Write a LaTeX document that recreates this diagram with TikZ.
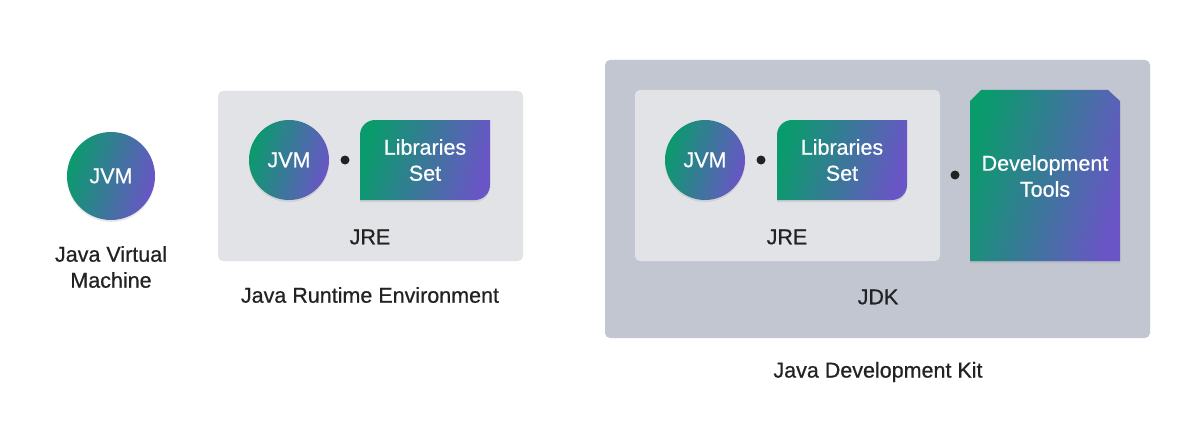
\documentclass[tikz,border=0pt]{standalone}
\usepackage{fontspec}
\setmainfont{Liberation Sans}
\newfontfamily\medfont{Liberation Sans}[FakeBold=0.6]
\usetikzlibrary{shadows}
\definecolor{gA}{HTML}{0A9B6C}
\definecolor{gB}{HTML}{6A55C6}
\definecolor{boxL}{HTML}{E1E3E7}
\definecolor{boxD}{HTML}{C1C6D0}
\definecolor{txt}{HTML}{222222}
\tikzset{
  grad/.style={left color=gA, right color=gB, shading angle=75},
  shad/.style={drop shadow={opacity=0.18, shadow xshift=0pt, shadow yshift=-2pt}},
  jvm/.style={circle, minimum size=#1, inner sep=0pt, grad, shad, text=white,
     font=\medfont\fontsize{21.5}{26}\selectfont},
  lbl/.style={text=txt, font=\medfont\fontsize{21.5}{26}\selectfont, align=center},
  wt/.style={text=white, font=\medfont\fontsize{21.5}{26}\selectfont, align=center},
  sep/.style={circle, fill=txt, minimum size=9pt, inner sep=0pt},
  panel/.style={rounded corners=5pt},
}
\begin{document}
\begin{tikzpicture}[x=1pt,y=-1pt]
\useasboundingbox[fill=white] (0,0) rectangle (1200,444);
% standalone JVM
\node[jvm=88pt] (jvm1) at (111,176) {JVM};
\node[lbl] (jvm1l) at (111,267) {Java Virtual\\Machine};
% JRE panel
\fill[boxL, panel] (218,91) rectangle (523,261);
\node[jvm=80pt] (jvm2) at (289,160) {JVM};
\node[sep] (d1) at (345,160) {};
\shade[grad, shad] (360,200) [rounded corners=15pt] -- (360,120) [sharp corners] -- (490,120) [rounded corners=15pt] -- (490,200) [sharp corners] -- cycle;
\node[wt] (lib1) at (425,160) {Libraries\\Set};
\node[lbl] (jre1) at (370,237) {JRE};
\node[lbl] (jre1l) at (370,295) {Java Runtime Environment};
% JDK panel
\fill[boxD, panel] (605,60) rectangle (1150,338);
\fill[boxL, panel] (635,90) rectangle (940,261);
\node[jvm=80pt] (jvm3) at (705,160) {JVM};
\node[sep] (d2) at (761,160) {};
\shade[grad, shad] (777,200) [rounded corners=15pt] -- (777,120) [sharp corners] -- (907,120) [rounded corners=15pt] -- (907,200) [sharp corners] -- cycle;
\node[wt] (lib2) at (842,160) {Libraries\\Set};
\node[lbl] (jre2) at (787,237) {JRE};
\node[sep] (d3) at (955,175) {};
\shade[grad, shad] (970,261) -- (970,101) -- (981,90) -- (1108,90) -- (1120,101) -- (1120,261) -- cycle;
\node[wt] (dev) at (1045,176) {Development\\Tools};
\node[lbl] (jdk) at (878,297) {JDK};
\node[lbl] (jdkl) at (878,372) {Java Development Kit};
\end{tikzpicture}
\end{document}
